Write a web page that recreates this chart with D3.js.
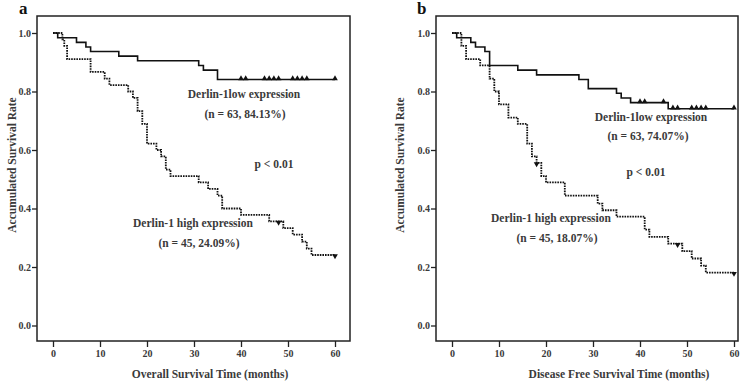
<!DOCTYPE html>
<html>
<head>
<meta charset="utf-8">
<script src="https://cdn.jsdelivr.net/npm/d3@7"></script>
<style>
  body { margin: 0; background: #fff; }
  svg text { font-family: "Liberation Serif", "Times New Roman", serif; font-weight: bold; }
</style>
</head>
<body>
<div id="chart"></div>
<script>
// ---- data ----
// panel a: overall survival
const aLowTime = [0, 1, 5, 7, 8, 14, 18, 31, 32, 35];
const aLowSurv = [1, 0.984, 0.968, 0.952, 0.937, 0.921, 0.905, 0.889, 0.873, 0.841];
const aLowCens = [40, 41, 45, 46, 47, 48, 51, 52, 53, 54, 60];

const aHighTime = [0, 2, 2.4, 3, 8, 11, 12, 16, 17, 18, 19, 20, 22, 23, 24, 25, 31, 33, 35, 36, 40, 46, 49, 51, 53, 54, 55];
const aHighSurv = [1, 0.978, 0.956, 0.911, 0.867, 0.844, 0.822, 0.8, 0.778, 0.733, 0.689, 0.622, 0.6, 0.578, 0.533, 0.511, 0.489, 0.467, 0.444, 0.4, 0.378, 0.356, 0.333, 0.311, 0.287, 0.263, 0.241];
const aHighCens = [48, 60];

// panel b: disease free survival
const bLowTime = [0, 1, 4, 5, 7, 8, 14, 18, 27, 29, 35, 36, 38, 46];
const bLowSurv = [1, 0.984, 0.968, 0.952, 0.937, 0.889, 0.873, 0.857, 0.841, 0.81, 0.794, 0.778, 0.762, 0.741];
const bLowCens = [40, 41, 45, 47, 48, 51, 52, 53, 54, 60];

const bHighTime = [0, 2, 3, 6, 8, 9, 10, 12, 14, 16, 17, 18, 19, 20, 24, 31, 32, 35, 41, 42, 46, 49, 51, 53, 54];
const bHighSurv = [1, 0.956, 0.911, 0.889, 0.844, 0.8, 0.756, 0.711, 0.689, 0.622, 0.578, 0.556, 0.511, 0.489, 0.444, 0.417, 0.394, 0.372, 0.328, 0.303, 0.28, 0.254, 0.229, 0.205, 0.181];
const bHighCens = [18, 48, 60];

const xTicks = [0, 10, 20, 30, 40, 50, 60];
const yTicks = [0, 0.2, 0.4, 0.6, 0.8, 1.0];

const panels = [
	{
		id: "a", xTitle: "Overall Survival Time (months)",
		box: [37, 350], xRange: [53, 335],
		low: { time: aLowTime, surv: aLowSurv, cens: aLowCens },
		high: { time: aHighTime, surv: aHighSurv, cens: aHighCens },
		labels: [
			["Derlin-1low expression", 244, 98],
			["(n = 63, 84.13%)", 245, 118],
			["p < 0.01", 274, 168],
			["Derlin-1 high expression", 193, 227],
			["(n = 45, 24.09%)", 199, 247]
		],
		titleX: 210, yTitleX: 12, letterX: 19
	},
	{
		id: "b", xTitle: "Disease Free Survival Time (months)",
		box: [436, 738], xRange: [452, 734],
		low: { time: bLowTime, surv: bLowSurv, cens: bLowCens },
		high: { time: bHighTime, surv: bHighSurv, cens: bHighCens },
		labels: [
			["Derlin-1low expression", 651, 121],
			["(n = 63, 74.07%)", 648, 140],
			["p < 0.01", 646, 176],
			["Derlin-1 high expression", 551, 222],
			["(n = 45, 18.07%)", 557, 242]
		],
		titleX: 619, yTitleX: 400, letterX: 417
	}
];

const W = 755, H = 385;
const boxTop = 16, boxBottom = 341;
const textCol = "#3a3a3a";

const svg = d3.select("#chart").append("svg")
	.attr("width", W)
	.attr("height", H);

const y = d3.scaleLinear().domain([0, 1]).range([325.5, 33]);

panels.forEach(p => {
	let g = svg.append("g").attr("class", "panel-" + p.id);
	let x = d3.scaleLinear().domain([0, 60]).range(p.xRange);

	// frame
	g.append("rect")
		.attr("x", p.box[0])
		.attr("y", boxTop)
		.attr("width", p.box[1] - p.box[0])
		.attr("height", boxBottom - boxTop)
		.attr("fill", "none")
		.attr("stroke", "#222")
		.attr("stroke-width", 1.5);

	// y axis
	let yAxis = d3.axisLeft(y).tickValues(yTicks).tickFormat(d3.format(".1f")).tickSize(5).tickPadding(1);
	let yg = g.append("g")
		.attr("transform", `translate(${p.box[0]},0)`)
		.call(yAxis);
	yg.select(".domain").remove();

	// x axis
	let xAxis = d3.axisBottom(x).tickValues(xTicks).tickSize(6).tickPadding(3);
	let xg = g.append("g")
		.attr("transform", `translate(0,${boxBottom})`)
		.call(xAxis);
	xg.select(".domain").remove();

	g.selectAll(".tick line").attr("stroke", "#222").attr("stroke-width", 1.3);
	g.selectAll(".tick text")
		.attr("fill", textCol)
		.style("font-family", "'Liberation Serif', serif")
		.style("font-weight", "bold")
		.style("font-size", "10px");

	// titles
	g.append("text")
		.attr("x", p.titleX)
		.attr("y", 378)
		.attr("text-anchor", "middle")
		.attr("fill", textCol)
		.style("font-size", "11.5px")
		.text(p.xTitle);

	g.append("text")
		.attr("transform", `translate(${p.yTitleX},165) rotate(-90)`)
		.attr("text-anchor", "middle")
		.attr("dy", "0.35em")
		.attr("fill", textCol)
		.style("font-size", "11.5px")
		.text("Accumulated Survival Rate");

	g.append("text")
		.attr("x", p.letterX)
		.attr("y", 14)
		.attr("fill", "#111")
		.style("font-size", "17px")
		.text(p.id);

	// survival curves
	let line = d3.line()
		.x(d => x(d[0]))
		.y(d => y(d[1]))
		.curve(d3.curveStepAfter);

	[["low", "none"], ["high", "1.6,1"]].forEach(([key, dash]) => {
		let s = p[key];
		let pts = s.time.map((t, i) => [t, s.surv[i]]);
		pts.push([d3.max(s.cens), s.surv[s.surv.length - 1]]);

		g.append("path")
			.datum(pts)
			.attr("d", line)
			.attr("fill", "none")
			.attr("stroke", "#111")
			.attr("stroke-width", key == "low" ? 1.6 : 1.8)
			.attr("stroke-dasharray", dash);

		// censor marks
		let survAt = t => {
			let i = d3.bisectRight(s.time, t) - 1;
			return s.surv[Math.max(i, 0)];
		};
		g.selectAll(".cens-" + key)
			.data(s.cens)
			.enter()
			.append("path")
			.attr("class", "cens-" + key)
			.attr("d", d3.symbol().type(d3.symbolTriangle).size(14))
			.attr("transform", d => `translate(${x(d)},${y(survAt(d)) + (key == "low" ? -1 : 1)}) rotate(${key == "low" ? 0 : 180})`)
			.attr("fill", "#111");
	});

	// annotations
	g.selectAll(".anno")
		.data(p.labels)
		.enter()
		.append("text")
		.attr("class", "anno")
		.attr("x", d => d[1])
		.attr("y", d => d[2])
		.attr("text-anchor", "middle")
		.attr("fill", textCol)
		.style("font-size", "11.5px")
		.text(d => d[0]);
});
</script>
</body>
</html>
